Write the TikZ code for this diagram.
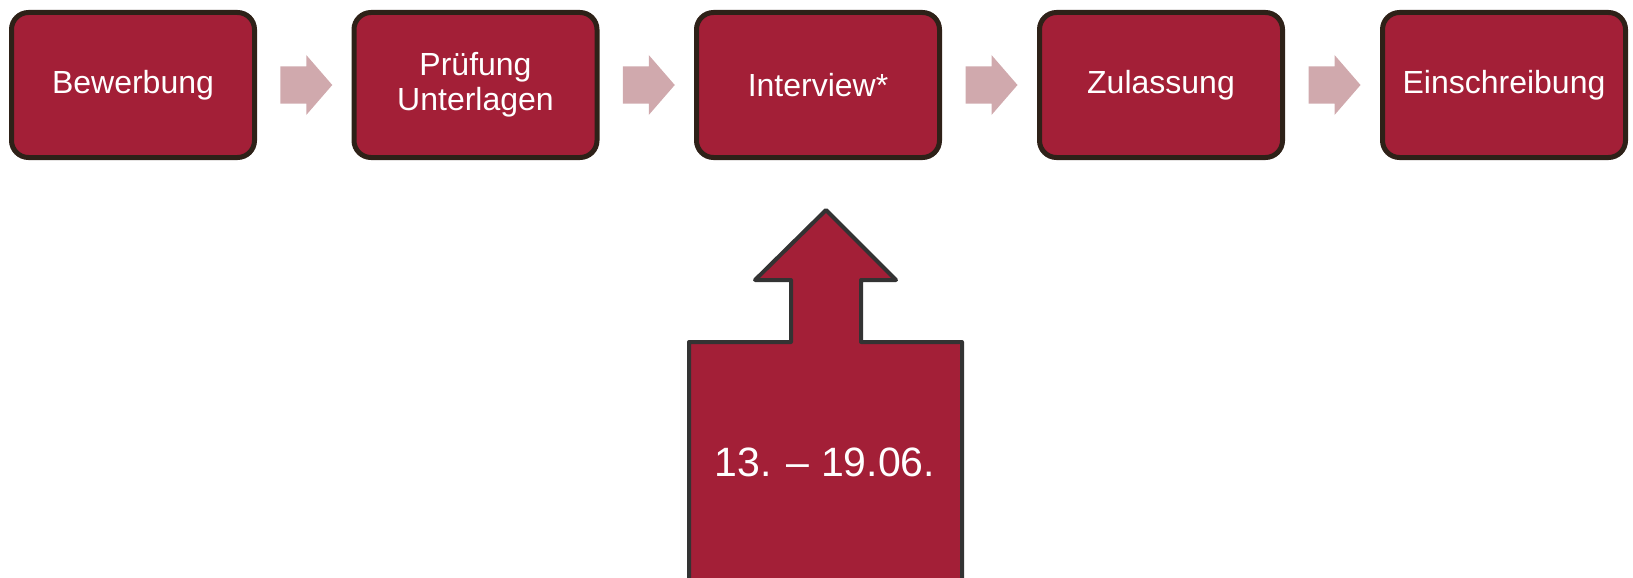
\documentclass[tikz,border=0pt]{standalone}
\usepackage{fontspec}
\setmainfont{Liberation Sans}
\usetikzlibrary{calc}
\definecolor{boxfill}{HTML}{A31F37}
\definecolor{boxline}{HTML}{2E2118}
\definecolor{arrowfill}{HTML}{D0A9AD}
\definecolor{calloutline}{HTML}{333333}
\begin{document}
\begin{tikzpicture}[x=1pt,y=-1pt,
  stepbox/.style={draw=boxline, fill=boxfill, line width=5pt, rounded corners=17pt,
    minimum width=243pt, minimum height=145pt, inner sep=0pt, text=white,
    align=center, font=\fontsize{32}{35}\selectfont},
  flowarrow/.style={fill=arrowfill, draw=none},
  callout/.style={draw=calloutline, fill=boxfill, line width=4pt, line join=round}]
\useasboundingbox (0,0) rectangle (1633,578);
\node[stepbox] (b1) at (133,85) {Bewerbung};
\node[stepbox] (b2) at (475.5,85) {Prüfung\\Unterlagen};
\node[stepbox] (b3) at (818,85) {Interview*};
\node[stepbox] (b4) at (1161,85) {Zulassung};
\node[stepbox] (b5) at (1504,85) {Einschreibung};
\foreach \a/\b [count=\i] in {b1/b2,b2/b3,b3/b4,b4/b5}{
  \path (\a.east) -- (\b.west) coordinate[pos=0.5] (m\i);
  \fill[flowarrow] ($(m\i)+(-24,-18.5)$) -- ($(m\i)+(2,-18.5)$) -- ($(m\i)+(2,-30)$)
    -- ($(m\i)+(28,0)$) -- ($(m\i)+(2,30)$) -- ($(m\i)+(2,18.5)$)
    -- ($(m\i)+(-24,18.5)$) -- cycle;
}
\draw[callout] (689,600) -- (689,342) -- (791,342) -- (791,280) -- (755,280)
  -- (826,210) -- (896,280) -- (861,280) -- (861,342) -- (962,342) -- (962,600);
\coordinate (tip) at (826,210);
\node[text=white, font=\fontsize{41}{48}\selectfont] (date) at (825,462) {13. – 19.06.};
\end{tikzpicture}
\end{document}
